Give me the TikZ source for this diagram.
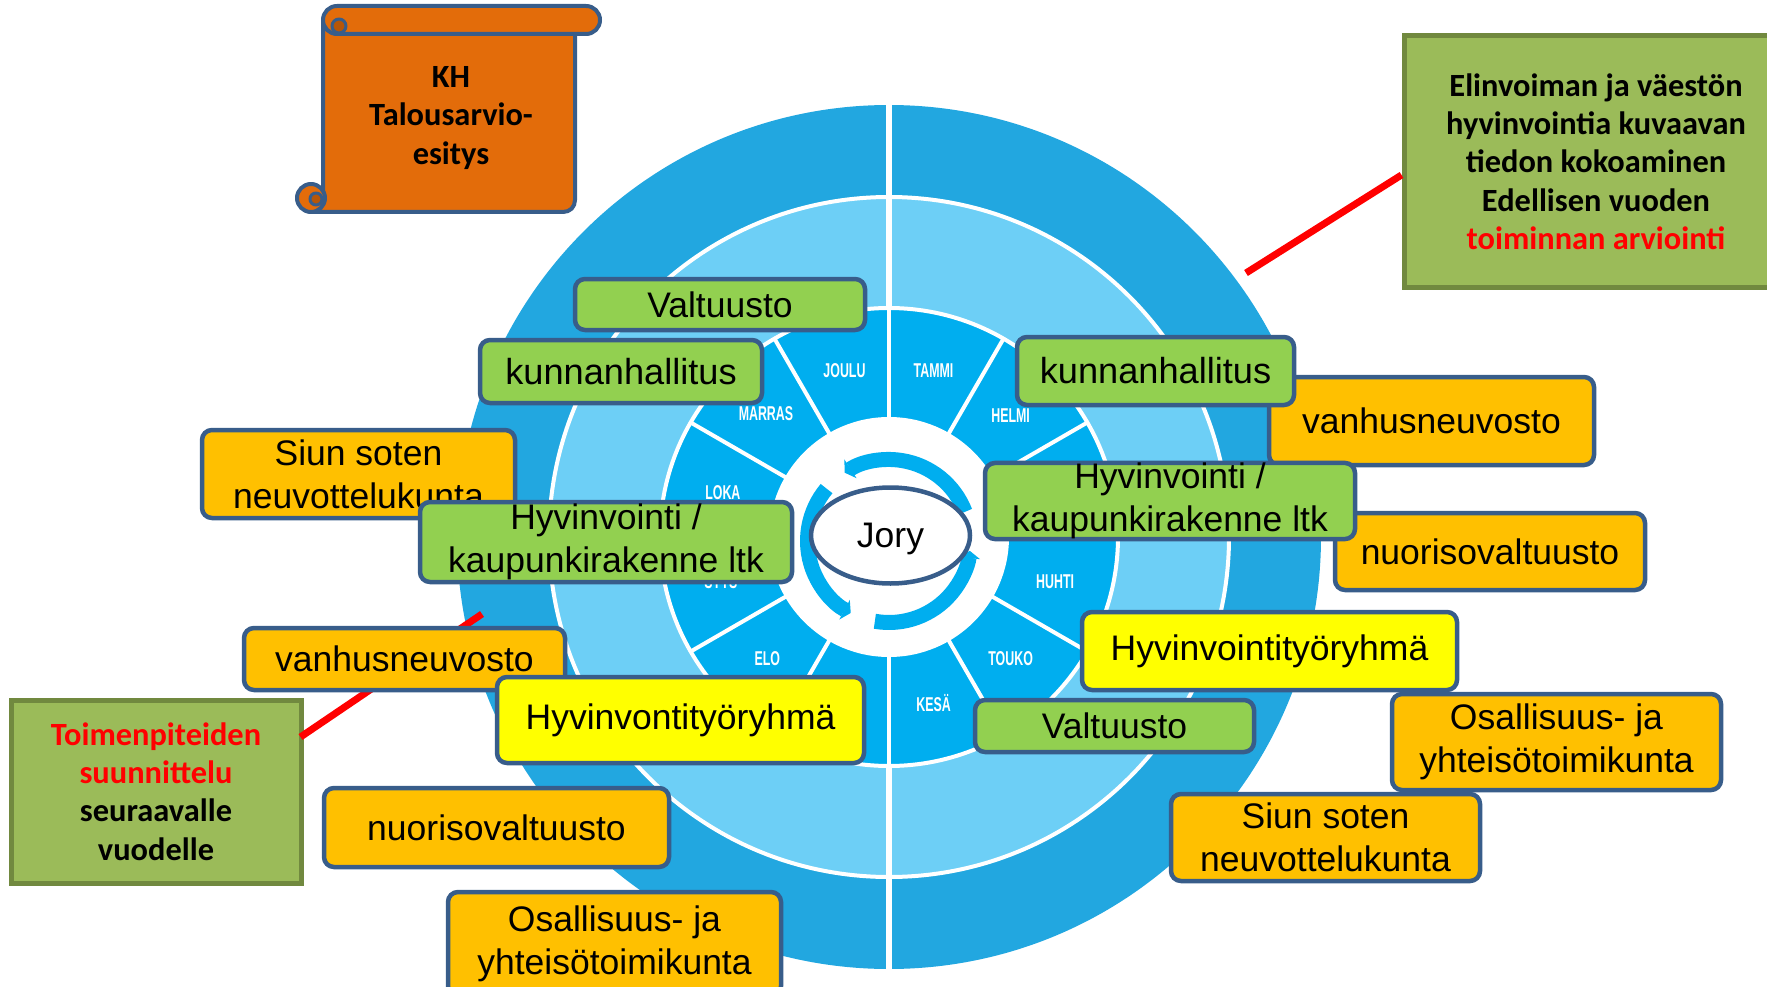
\documentclass[tikz,border=0pt]{standalone}
\usepackage{fontspec}
\usetikzlibrary{shapes.geometric,arrows.meta}
\newfontfamily\arialf{Liberation Sans}
\newfontfamily\calibf{Carlito}
\newfontfamily\monthf[FakeStretch=0.62]{Liberation Sans Bold}
\definecolor{outerc}{RGB}{34,167,224}
\definecolor{lightc}{RGB}{109,207,246}
\definecolor{monthc}{RGB}{0,174,239}
\definecolor{boxborder}{RGB}{56,93,138}
\definecolor{boxgreen}{RGB}{146,208,80}
\definecolor{boxorange}{RGB}{255,192,0}
\definecolor{boxyellow}{RGB}{255,255,0}
\definecolor{calfill}{RGB}{155,187,89}
\definecolor{calborder}{RGB}{113,137,63}
\definecolor{scrollfill}{RGB}{227,108,10}
\definecolor{scrolldark}{RGB}{182,86,8}
\begin{document}
\begin{tikzpicture}[x=1pt,y=-1pt,
  box/.style={draw=boxborder, line width=4.5pt, rounded corners=10pt, inner sep=0pt, align=center,
    font=\arialf\fontsize{35.5}{43}\selectfont},
  gbox/.style={box, fill=boxgreen},
  obox/.style={box, fill=boxorange},
  ybox/.style={box, fill=boxyellow},
  bigtext/.style={font=\arialf\fontsize{36.2}{44}\selectfont},
  callout/.style={draw=calborder, fill=calfill, line width=5pt, inner sep=0pt, align=center,
    font=\calibf\bfseries\fontsize{32.4}{38.3}\selectfont},
  scrollst/.style={draw=boxborder, fill=scrollfill, line width=4pt, line join=round},
  monthlbl/.style={text=white, font=\monthf\fontsize{20}{20}\selectfont, inner sep=0pt},
  arrowst/.style={draw=monthc, line width=15pt, -{Triangle[width=22pt,length=7pt]}},
  redline/.style={draw=red, line width=7pt},
  jorystyle/.style={ellipse, draw=boxborder, fill=white, line width=4.5pt, inner sep=0pt,
    minimum width=159pt, minimum height=96pt, text depth=0pt, font=\arialf\fontsize{35.5}{43}\selectfont}
]
\useasboundingbox (0,0) rectangle (1767,987);
\clip (0,0) rectangle (1767,987);

% ---------- wheel ----------
\begin{scope}[shift={(889,537)}, y=1pt]
  \fill[outerc] (0,0) circle (432pt);
  \fill[lightc] (0,0) circle (340pt);
  \fill[monthc] (0,0) circle (229pt);
  \fill[white] (0,0) circle (120pt);
  \draw[white, line width=4pt] (0,0) circle (340pt);
  \draw[white, line width=4pt] (0,0) circle (229pt);
  \foreach \a in {0,30,...,330} \draw[white, line width=4pt] (\a:118pt) -- (\a:229pt);
  \foreach \a in {0,90,180,270} \draw[white, line width=6pt] (\a:229pt) -- (\a:436pt);
  \node[monthlbl] (mTAMMI)  at (75:172pt)   {TAMMI};
  \node[monthlbl] (mHELMI)  at (45:172pt)   {HELMI};
  \node[monthlbl] (mHUHTI)  at (-15:172pt)  {HUHTI};
  \node[monthlbl] (mTOUKO)  at (-45:172pt)  {TOUKO};
  \node[monthlbl] (mKESA)   at (-75:172pt)  {KESÄ};
  \node[monthlbl] (mELO)    at (-135:172pt) {ELO};
  \node[monthlbl] (mSYYS)   at (-165:174pt) {SYYS};
  \node[monthlbl] (mLOKA)   at (165:172pt)  {LOKA};
  \node[monthlbl] (mMARRAS) at (135:174pt)  {MARRAS};
  \node[monthlbl] (mJOULU)  at (105:172pt)  {JOULU};
  \draw[arrowst] ([shift={(0,-4)}]21:81.5pt) arc[start angle=21, end angle=123, radius=81.5pt];
  \draw[arrowst] ([shift={(0,-4)}]140:81.5pt) arc[start angle=140, end angle=242, radius=81.5pt];
  \draw[arrowst] ([shift={(0,-4)}]260:81.5pt) arc[start angle=260, end angle=353, radius=81.5pt];
\end{scope}

\node[jorystyle] (jory) at (890.5,535.5) {Jory};

% ---------- scroll ----------
\draw[scrollst] (323,20) -- (575,20) -- (575,200) .. controls (575,207) and (570,212) .. (563,212)
   -- (311,212) -- (311,198) -- (323,198) -- cycle;
\draw[scrollst] (311,198) circle (14pt);
\draw[scrollst, fill=scrolldark, line width=3pt] (316,199) circle (6pt);
\draw[scrollst, rounded corners=13.9pt] (323,6) rectangle (600,34);
\draw[scrollst, fill=scrolldark, line width=3pt] (339,26) circle (7pt);
\node[font=\calibf\bfseries\fontsize{32.4}{38.5}\selectfont, align=center, inner sep=0pt] (kh) at (451,118)
   {KH\\Talousarvio-\\esitys};

% ---------- callouts ----------
\node[callout, minimum width=384pt, minimum height=251pt] (greenR) at (1596,161.5)
  {Elinvoiman ja väestön\\hyvinvointia kuvaavan\\tiedon kokoaminen\\Edellisen vuoden\\\textcolor{red}{toiminnan arviointi}};
\node[callout, minimum width=290pt, minimum height=183pt] (greenL) at (156,791.5)
  {\textcolor{red}{Toimenpiteiden}\\\textcolor{red}{suunnittelu}\\seuraavalle\\vuodelle};

\coordinate (wheelR) at (1246,273);
\coordinate (wheelL) at (482,614);
\draw[redline] (wheelR) -- ([yshift=-13.5pt]greenR.west);
\draw[redline] (wheelL) -- ([yshift=54.5pt,xshift=-3pt]greenL.east);

% ---------- boxes, left ----------
\node[gbox, minimum width=290pt, minimum height=51pt] (valtTL) at (720,304.5) {Valtuusto};
\node[gbox, bigtext, minimum width=282pt, minimum height=63pt] (kunnTL) at (621,371.5) {kunnanhallitus};
\node[obox, minimum width=313pt, minimum height=88pt] (siunL) at (358.5,474) {Siun soten\\neuvottelukunta};
\node[gbox, minimum width=372pt, minimum height=80pt] (hyvL) at (606,542) {Hyvinvointi /\\kaupunkirakenne ltk};
\node[obox, minimum width=321pt, minimum height=62pt] (vanhL) at (404.5,659) {vanhusneuvosto};
\node[ybox, minimum width=367pt, minimum height=86pt] (hyvtyoL) at (680.5,720) {Hyvinvontityöryhmä};
\node[obox, minimum width=345pt, minimum height=79pt] (nuorL) at (496.5,827.5) {nuorisovaltuusto};
\node[obox, minimum width=333pt, minimum height=104pt] (osalL) at (614.5,944) {Osallisuus- ja\\yhteisötoimikunta};

% ---------- boxes, right ----------
\node[obox, minimum width=325pt, minimum height=88pt] (vanhR) at (1431.5,421) {vanhusneuvosto};
\node[obox, minimum width=310pt, minimum height=77pt] (nuorR) at (1490,551.5) {nuorisovaltuusto};
\node[gbox, bigtext, minimum width=277pt, minimum height=68pt] (kunnR) at (1155.5,371) {kunnanhallitus};
\node[gbox, minimum width=370pt, minimum height=75pt] (hyvR) at (1170,501) {Hyvinvointi /\\kaupunkirakenne ltk};
\node[ybox, minimum width=375pt, minimum height=78pt] (hyvtyoR) at (1269.5,651) {Hyvinvointityöryhmä};
\node[gbox, minimum width=279pt, minimum height=52pt] (valtBR) at (1114.5,726) {Valtuusto};
\node[obox, minimum width=329pt, minimum height=96pt] (osalR) at (1556.5,742) {Osallisuus- ja\\yhteisötoimikunta};
\node[obox, minimum width=309pt, minimum height=87pt] (siunR) at (1325.5,837.5) {Siun soten\\neuvottelukunta};
\end{tikzpicture}
\end{document}
